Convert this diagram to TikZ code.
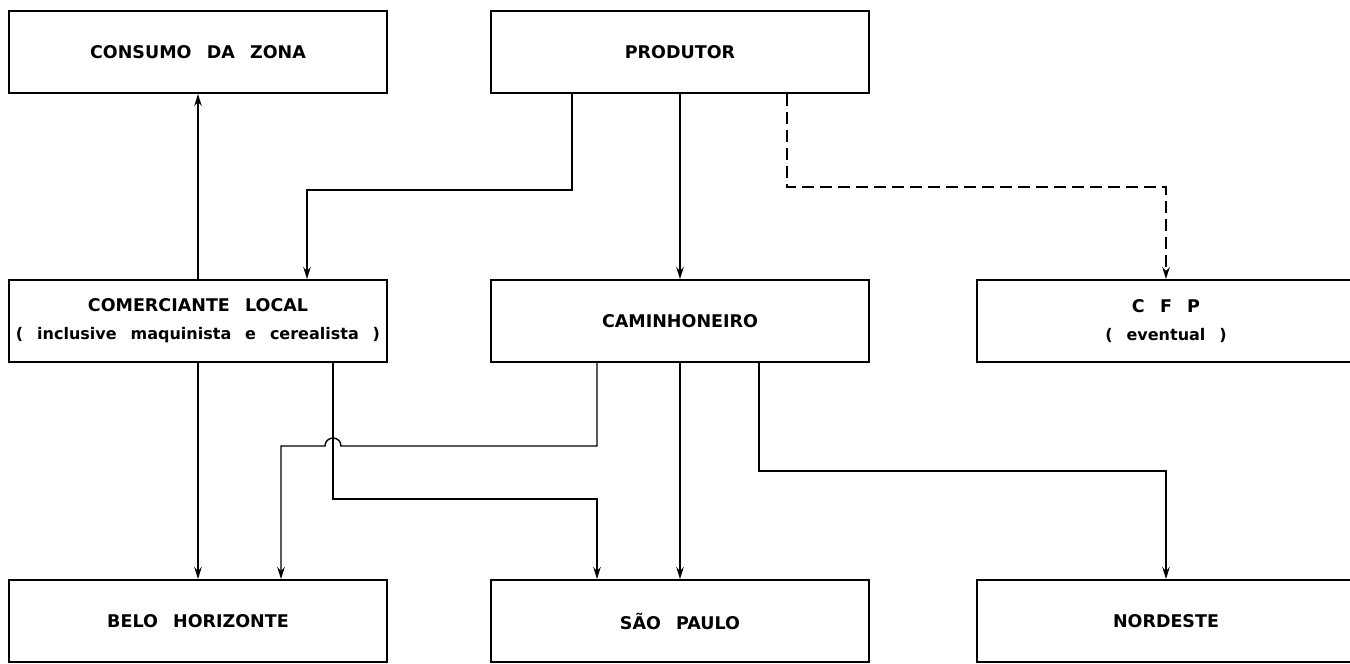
\documentclass[tikz,border=0pt]{standalone}
\usepackage{fontspec}
\setmainfont{DejaVu Sans}[WordSpace=2.5]
\usepackage{tikz}
\usetikzlibrary{arrows.meta}

\newcommand{\boxnote}[1]{{\fontsize{16}{20}\selectfont #1}}

\tikzset{
  box/.style={draw, line width=2pt, minimum width=378pt, minimum height=82pt,
    inner sep=0pt, align=center, font=\fontsize{17.5}{28}\selectfont\bfseries},
  flow/.style={line width=1.4pt, -{Stealth[length=12pt,width=7.5pt]}},
}

\begin{document}
\begin{tikzpicture}[x=1pt, y=-1pt]

\useasboundingbox (0,0) rectangle (1350,664);

\node[box] (consumo) at (198,52) {CONSUMO DA ZONA};
\node[box] (produtor) at (680,52) {PRODUTOR};

\node[box] (comerciante) at (198,321) {COMERCIANTE LOCAL\\\boxnote{( inclusive maquinista e cerealista )}};
\node[box] (caminhoneiro) at (680,321) {CAMINHONEIRO};
\node[box] (cfp) at (1166,321) {C F P\\\boxnote{( eventual )}};

\node[box] (bh) at (198,621) {BELO HORIZONTE};
\node[box] (sp) at (680,621) {SÃO PAULO};
\node[box] (nordeste) at (1166,621) {NORDESTE};

% produtor
\draw[flow] ([xshift=-108pt]produtor.south) -- ++(0,96) -| ([xshift=109pt]comerciante.north);
\draw[flow] (produtor.south) -- (caminhoneiro.north);
\draw[flow, dash pattern=on 12pt off 6pt] ([xshift=107pt]produtor.south) -- ++(0,93) -| (cfp.north);

% comerciante
\draw[flow] (comerciante.north) -- (consumo.south);
\draw[flow] (comerciante.south) -- (bh.north);
\draw[flow] ([xshift=135pt]comerciante.south) -- ++(0,136) -| ([xshift=-83pt]sp.north);

% caminhoneiro
\draw[flow] ([xshift=-83pt]caminhoneiro.south) -- ++(0,83) -- ++(-256,0)
  arc[start angle=0, end angle=180, radius=8pt] -| ([xshift=83pt]bh.north);
\draw[flow] (caminhoneiro.south) -- (sp.north);
\draw[flow] ([xshift=79pt]caminhoneiro.south) -- ++(0,108) -| (nordeste.north);

\end{tikzpicture}
\end{document}
